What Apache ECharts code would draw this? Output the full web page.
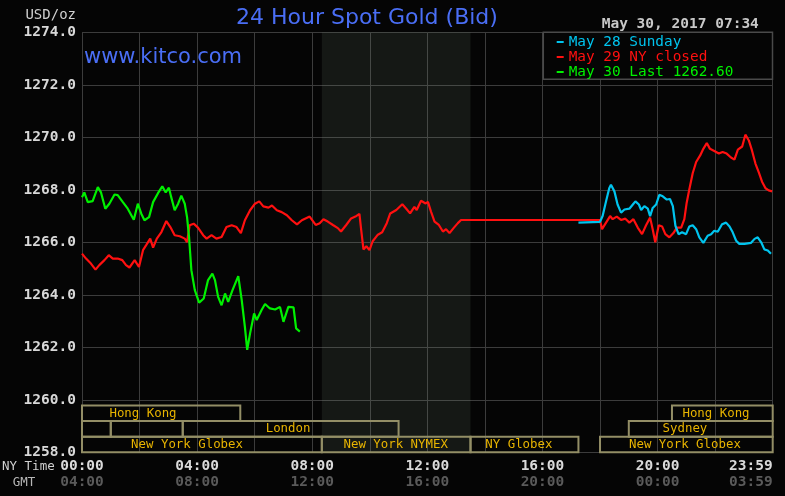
<!DOCTYPE html>
<html>
<head>
<meta charset="utf-8">
<script src="https://cdn.jsdelivr.net/npm/echarts@6/dist/echarts.min.js"></script>
<style>
  html, body { margin: 0; padding: 0; background: #050505; }
  #goldChart { width: 785px; height: 496px; }
</style>
</head>
<body>
<div id="goldChart"></div>
<script>
// values, x = NY hour of day
var may29 = [
  [0, 1265.57], [0.14, 1265.38], [0.31, 1265.19], [0.47, 1264.96], [0.6, 1265.13], [0.78, 1265.32],
  [0.93, 1265.51], [1.07, 1265.38], [1.24, 1265.38], [1.4, 1265.32], [1.53, 1265.13], [1.65, 1265.04],
  [1.83, 1265.32], [1.98, 1265.06], [2.12, 1265.7], [2.23, 1265.89], [2.37, 1266.14], [2.47, 1265.8],
  [2.6, 1266.14], [2.76, 1266.39], [2.93, 1266.81], [3.07, 1266.58], [3.22, 1266.27], [3.4, 1266.23],
  [3.57, 1266.14], [3.65, 1266.01], [3.74, 1266.65], [3.88, 1266.71], [4.03, 1266.56], [4.21, 1266.27],
  [4.33, 1266.14], [4.5, 1266.27], [4.67, 1266.14], [4.85, 1266.2], [5.02, 1266.58], [5.2, 1266.65],
  [5.37, 1266.58], [5.52, 1266.35], [5.66, 1266.84], [5.84, 1267.22], [6.01, 1267.47], [6.16, 1267.56],
  [6.3, 1267.37], [6.48, 1267.32], [6.6, 1267.4], [6.77, 1267.22], [6.94, 1267.15], [7.12, 1267.03],
  [7.29, 1266.84], [7.47, 1266.68], [7.64, 1266.84], [7.91, 1266.98], [8.12, 1266.66], [8.26, 1266.73],
  [8.39, 1266.88], [8.54, 1266.79], [8.72, 1266.66], [8.89, 1266.54], [9.0, 1266.41], [9.18, 1266.66],
  [9.35, 1266.91], [9.5, 1266.98], [9.64, 1267.08], [9.7, 1266.48], [9.78, 1265.73], [9.88, 1265.85],
  [9.99, 1265.7], [10.1, 1266.04], [10.28, 1266.29], [10.43, 1266.38], [10.59, 1266.73], [10.71, 1267.1],
  [10.92, 1267.23], [11.13, 1267.45], [11.26, 1267.29], [11.4, 1267.1], [11.55, 1267.35], [11.63, 1267.23],
  [11.78, 1267.58], [11.94, 1267.48], [12.02, 1267.54], [12.13, 1267.16], [12.25, 1266.79], [12.4, 1266.66],
  [12.54, 1266.41], [12.65, 1266.5], [12.77, 1266.35], [12.91, 1266.54], [13.06, 1266.73], [13.17, 1266.85],
  [18.0, 1266.85], [18.07, 1266.5], [18.21, 1266.75], [18.35, 1267.0], [18.44, 1266.88], [18.58, 1266.98],
  [18.73, 1266.85], [18.88, 1266.9], [19.02, 1266.75], [19.16, 1266.88], [19.31, 1266.56], [19.46, 1266.31],
  [19.6, 1266.65], [19.74, 1266.94], [19.83, 1266.5], [19.92, 1266.0], [20.04, 1266.65], [20.16, 1266.6],
  [20.27, 1266.31], [20.41, 1266.19], [20.55, 1266.35], [20.67, 1266.56], [20.82, 1266.56], [20.93, 1266.88],
  [21.01, 1267.5], [21.1, 1268.0], [21.22, 1268.63], [21.34, 1269.06], [21.48, 1269.31], [21.59, 1269.56],
  [21.71, 1269.78], [21.82, 1269.56], [21.97, 1269.48], [22.13, 1269.38], [22.26, 1269.44], [22.4, 1269.38],
  [22.55, 1269.23], [22.67, 1269.15], [22.79, 1269.53], [22.94, 1269.65], [23.05, 1270.1], [23.17, 1269.88],
  [23.28, 1269.5], [23.4, 1269.0], [23.52, 1268.65], [23.63, 1268.31], [23.75, 1268.06], [23.86, 1267.98],
  [23.98, 1267.94]
]

var may28 = [
  [17.25, 1266.75], [18.0, 1266.78], [18.09, 1267.0], [18.21, 1267.56], [18.32, 1268.06], [18.38, 1268.19],
  [18.5, 1267.94], [18.61, 1267.44], [18.73, 1267.13], [18.85, 1267.25], [19.02, 1267.28], [19.14, 1267.44],
  [19.23, 1267.56], [19.35, 1267.44], [19.43, 1267.23], [19.54, 1267.38], [19.66, 1267.28], [19.74, 1267.0],
  [19.83, 1267.31], [19.95, 1267.44], [20.06, 1267.81], [20.18, 1267.75], [20.32, 1267.63], [20.43, 1267.65],
  [20.53, 1267.38], [20.62, 1266.63], [20.73, 1266.31], [20.85, 1266.38], [20.99, 1266.31], [21.1, 1266.6],
  [21.22, 1266.65], [21.34, 1266.5], [21.45, 1266.19], [21.59, 1265.98], [21.74, 1266.25], [21.86, 1266.31],
  [21.97, 1266.44], [22.09, 1266.4], [22.24, 1266.69], [22.38, 1266.75], [22.5, 1266.6], [22.61, 1266.38],
  [22.73, 1266.06], [22.84, 1265.94], [23.02, 1265.94], [23.25, 1265.98], [23.37, 1266.13], [23.48, 1266.19],
  [23.6, 1266.0], [23.71, 1265.73], [23.83, 1265.69], [23.94, 1265.56]
]

var may30 = [
  [0, 1267.72], [0.08, 1267.9], [0.2, 1267.53], [0.37, 1267.57], [0.55, 1268.1], [0.66, 1267.9],
  [0.81, 1267.28], [0.95, 1267.47], [1.13, 1267.82], [1.24, 1267.8], [1.42, 1267.53], [1.59, 1267.28],
  [1.8, 1266.86], [1.94, 1267.47], [2.06, 1267.09], [2.17, 1266.84], [2.33, 1266.96], [2.47, 1267.53],
  [2.64, 1267.87], [2.79, 1268.13], [2.91, 1267.9], [3.02, 1268.08], [3.1, 1267.72], [3.22, 1267.22],
  [3.34, 1267.47], [3.45, 1267.78], [3.57, 1267.47], [3.65, 1266.96], [3.72, 1266.2], [3.8, 1264.94],
  [3.92, 1264.18], [4.07, 1263.7], [4.23, 1263.86], [4.38, 1264.56], [4.53, 1264.81], [4.62, 1264.56],
  [4.73, 1263.92], [4.85, 1263.6], [4.97, 1264.05], [5.08, 1263.73], [5.23, 1264.18], [5.43, 1264.71],
  [5.55, 1263.8], [5.66, 1262.78], [5.74, 1261.9], [5.84, 1262.53], [5.98, 1263.29], [6.07, 1263.04],
  [6.24, 1263.42], [6.36, 1263.65], [6.53, 1263.48], [6.71, 1263.44], [6.88, 1263.54], [7.0, 1262.97],
  [7.17, 1263.54], [7.35, 1263.52], [7.44, 1262.72], [7.57, 1262.6]
]

var seriesNames = ['May 28 Sunday', 'May 29 NY closed', 'May 30 Last 1262.60']
var nyTicks = ['00:00', '04:00', '08:00', '12:00', '16:00', '20:00', '23:59']
var gmtTicks = ['04:00', '08:00', '12:00', '16:00', '20:00', '00:00', '03:59']
var nymexHours = [8.333, 13.5]

// trading sessions: [start, end, row (0 = bottom), label hour, label]
var sessions = [
  [0, 5.5, 2, 2.12, 'Hong Kong'],
  [20.5, 24, 2, 22.03, 'Hong Kong'],
  [0, 1, 1, 0.5, ''],
  [1, 3.5, 1, 2.25, ''],
  [3.5, 11, 1, 7.16, 'London'],
  [19, 24, 1, 20.95, 'Sydney'],
  [0, 8.333, 0, 3.65, 'New York Globex'],
  [8.333, 13.5, 0, 10.9, 'New York NYMEX'],
  [13.5, 17.25, 0, 15.18, 'NY Globex'],
  [18, 24, 0, 20.95, 'New York Globex']
]

var mono = '"DejaVu Sans Mono", "Liberation Mono", monospace'
var chart = echarts.init(document.getElementById('goldChart'))

chart.setOption({
  animation: false,
  backgroundColor: '#050505',
  grid: { left: 82, right: 12.3, top: 32.3, bottom: 43.7 },
  legend: {
    orient: 'vertical',
    left: 551.7,
    top: 29.5,
    icon: 'rect',
    itemWidth: 7,
    itemHeight: 2,
    itemGap: 0,
    selectedMode: false,
    data: [
      { name: seriesNames[0], textStyle: { color: '#00c4ee' } },
      { name: seriesNames[1], textStyle: { color: '#ff1010' } },
      { name: seriesNames[2], textStyle: { color: '#00f000' } }
    ],
    textStyle: { fontFamily: mono, fontSize: 14.4, lineHeight: 15 }
  },
  xAxis: {
    type: 'value',
    min: 0,
    max: 24,
    interval: 2,
    axisLine: { show: false },
    axisTick: { show: false },
    splitLine: { lineStyle: { color: '#3c3c3c', width: 1 } },
    axisLabel: {
      margin: 6.4,
      alignMaxLabel: 'right',
      formatter: function (v) {
        if (v % 4 !== 0) return ''
        var i = v / 4
        return '{ny|' + nyTicks[i] + '}\n{gmt|' + gmtTicks[i] + '}'
      },
      rich: {
        ny: { color: '#dadada', fontFamily: mono, fontSize: 14.5, fontWeight: 'bold', lineHeight: 16 },
        gmt: { color: '#5a5a5a', fontFamily: mono, fontSize: 14.5, fontWeight: 'bold', lineHeight: 16 }
      }
    }
  },
  yAxis: {
    type: 'value',
    min: 1258,
    max: 1274,
    interval: 2,
    axisLine: { show: false },
    axisTick: { show: false },
    splitLine: { lineStyle: { color: '#3c3c3c', width: 1 } },
    axisLabel: {
      margin: 6,
      color: '#d8d8d8',
      fontFamily: mono,
      fontSize: 14.5,
      fontWeight: 'bold',
      formatter: function (v) { return v.toFixed(1) }
    }
  },
  graphic: [
    { type: 'rect', z: 3, shape: { x: 543.3, y: 32.3, width: 229.2, height: 47 },
      style: { fill: '#050505', stroke: '#4a4a4a', lineWidth: 1.5 } },
    { type: 'text', x: 236, y: 18, style: { text: '24 Hour Spot Gold (Bid)', fill: '#4a6ef5',
      fontFamily: '"DejaVu Sans"', fontSize: 22, textVerticalAlign: 'middle' } },
    { type: 'text', x: 84, y: 58, z: 5, style: { text: 'www.kitco.com', fill: '#4a6ef5',
      fontFamily: '"DejaVu Sans"', fontSize: 21, textVerticalAlign: 'middle' } },
    { type: 'text', x: 601.7, y: 23.8, style: { text: 'May 30, 2017 07:34', fill: '#c8c8c8',
      fontFamily: mono, fontSize: 14.5, fontWeight: 'bold', textVerticalAlign: 'middle' } },
    { type: 'text', x: 76, y: 15.5, style: { text: 'USD/oz', fill: '#d0d0d0', fontFamily: mono,
      fontSize: 14, textAlign: 'right', textVerticalAlign: 'middle' } },
    { type: 'text', x: 2, y: 466.7, style: { text: 'NY Time', fill: '#d0d0d0', fontFamily: mono,
      fontSize: 12.5, textVerticalAlign: 'middle' } },
    { type: 'text', x: 12.7, y: 482.7, style: { text: 'GMT', fill: '#b8b8b8', fontFamily: mono,
      fontSize: 12.5, textVerticalAlign: 'middle' } }
  ],
  series: [
    {
      name: seriesNames[1],
      type: 'line',
      data: may29,
      showSymbol: false,
      color: '#ff1010',
      lineStyle: { width: 2.2 },
      markArea: {
        silent: true,
        itemStyle: { color: 'rgba(135,151,135,0.13)' },
        data: [[{ xAxis: nymexHours[0] }, { xAxis: nymexHours[1] }]]
      }
    },
    {
      name: seriesNames[0],
      type: 'line',
      data: may28,
      showSymbol: false,
      color: '#00c4ee',
      lineStyle: { width: 2.2 }
    },
    {
      name: seriesNames[2],
      type: 'line',
      data: may30,
      showSymbol: false,
      color: '#00f000',
      lineStyle: { width: 2.2 }
    },
    {
      name: 'sessions',
      type: 'custom',
      clip: false,
      silent: true,
      data: sessions.map(function (s) { return [s[0], s[1]] }),
      encode: { x: [0, 1] },
      renderItem: function (params, api) {
        var s = sessions[params.dataIndex]
        var rowH = 15.6
        var base = api.coord([0, 1258])[1]
        var x0 = api.coord([s[0], 1258])[0]
        var x1 = api.coord([s[1], 1258])[0]
        var top = base - (s[2] + 1) * rowH
        var children = [{
          type: 'rect',
          shape: { x: x0, y: top, width: x1 - x0, height: rowH },
          style: { fill: 'none', stroke: '#938e66', lineWidth: 2 }
        }]
        if (s[4]) {
          children.push({
            type: 'text',
            style: {
              x: api.coord([s[3], 1258])[0],
              y: top + rowH / 2,
              text: s[4],
              fill: '#e8b400',
              fontFamily: mono,
              fontSize: 12.4,
              textAlign: 'center',
              textVerticalAlign: 'middle'
            }
          })
        }
        return { type: 'group', children: children }
      }
    }
  ]
})
</script>
</body>
</html>
